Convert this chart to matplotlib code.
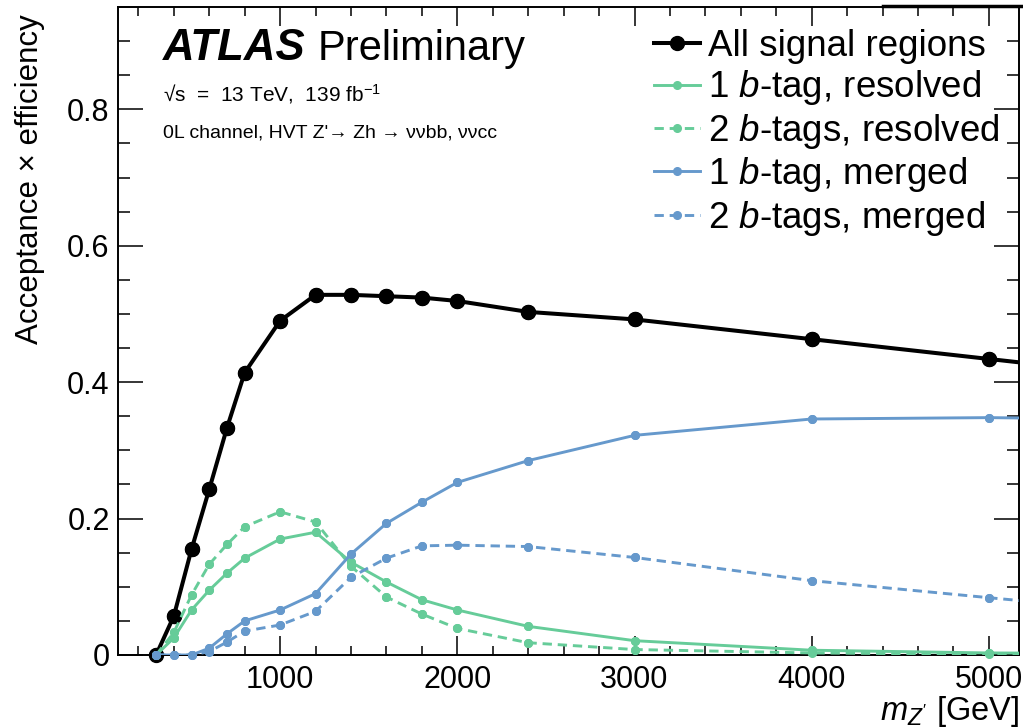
"""Acceptance x efficiency of the HVT Z' -> Zh signal in the 0-lepton channel."""

import matplotlib
matplotlib.use("Agg")
import matplotlib.pyplot as plt
from matplotlib.lines import Line2D
from matplotlib.ticker import MultipleLocator

plt.rcParams["font.family"] = ["Liberation Sans", "DejaVu Sans"]
plt.rcParams["mathtext.fontset"] = "custom"
plt.rcParams["mathtext.rm"] = "Liberation Sans"
plt.rcParams["mathtext.it"] = "Liberation Sans:italic"
plt.rcParams["mathtext.bf"] = "Liberation Sans:bold"

# Signal mass points [GeV]
mass = [300, 400, 500, 600, 700, 800, 1000, 1200, 1400, 1600, 1800, 2000,
        2400, 3000, 4000, 5000, 6000]

all_regions = [0.0, 0.057, 0.155, 0.243, 0.333, 0.414, 0.490, 0.528, 0.528,
               0.526, 0.524, 0.519, 0.503, 0.492, 0.463, 0.434, 0.405]
res_1b = [0.0, 0.025, 0.066, 0.095, 0.120, 0.142, 0.170, 0.180, 0.136,
          0.107, 0.081, 0.066, 0.042, 0.021, 0.007, 0.003, 0.002]
res_2b = [0.0, 0.033, 0.088, 0.133, 0.162, 0.188, 0.210, 0.195, 0.130,
          0.085, 0.060, 0.039, 0.018, 0.008, 0.003, 0.001, 0.001]
mer_1b = [0.0, 0.0, 0.0, 0.010, 0.031, 0.050, 0.066, 0.090, 0.148,
          0.193, 0.224, 0.253, 0.285, 0.322, 0.346, 0.348, 0.345]
mer_2b = [0.0, 0.0, 0.0, 0.005, 0.019, 0.035, 0.044, 0.064, 0.114,
          0.142, 0.160, 0.161, 0.159, 0.143, 0.109, 0.084, 0.060]

labels = ["All signal regions",
          "1 $b$-tag, resolved",
          "2 $b$-tags, resolved",
          "1 $b$-tag, merged",
          "2 $b$-tags, merged"]

GREEN = "#66cc99"
BLUE = "#6699cc"
DASH = (0, (3.2, 2))

W, H = 1023, 727
fig = plt.figure(figsize=(W / 100, H / 100), dpi=100)
# axes box in pixels: left 118, right 1019, top 7, bottom 655
ax = fig.add_axes([118 / W, 1 - 655 / H, (1019 - 118) / W, (655 - 7) / H])

series = [
    (all_regions, dict(color="black", lw=2.9, ms=10), 3),
    (res_1b, dict(color=GREEN, lw=2.1, ms=5.5), 4),
    (res_2b, dict(color=GREEN, lw=2.1, ms=5.5, ls=DASH), 4),
    (mer_1b, dict(color=BLUE, lw=2.1, ms=5.5), 5),
    (mer_2b, dict(color=BLUE, lw=2.1, ms=5.5, ls=DASH), 5),
]
for (values, style, z), label in zip(series, labels):
    ax.plot(mass, values, marker="o", label=label, zorder=z, **style)
    # markers sitting on the frame are drawn in full
    ax.plot(mass, values, marker="o", ls="none", color=style["color"],
            ms=style["ms"], zorder=z, clip_on=False)

ax.set_xlim(85, 5170)
ax.set_ylim(0, 0.95)
ax.xaxis.set_major_locator(MultipleLocator(1000))
ax.xaxis.set_minor_locator(MultipleLocator(200))
ax.yaxis.set_minor_locator(MultipleLocator(0.05))
ax.set_yticks([0, 0.2, 0.4, 0.6, 0.8])
ax.set_yticklabels(["0", "0.2", "0.4", "0.6", "0.8"])

ax.tick_params(which="both", direction="in", top=True, right=True, width=1.1,
               labelsize=22)
ax.tick_params(axis="x", which="major", length=13.5, pad=7.5)
ax.tick_params(axis="x", which="minor", length=6.5)
ax.tick_params(axis="y", which="major", length=18, pad=6)
ax.tick_params(axis="y", which="minor", length=8.5)
for sp in ax.spines.values():
    sp.set_linewidth(1.4)

fig.text(1019 / W, 1 - 720 / H, "$m_{Z'}$ [GeV]", ha="right", va="baseline",
         fontsize=23.5)
fig.text(30 / W, 1 - 14 / H, "Acceptance \u00d7 efficiency", rotation=90,
         ha="center", va="top", fontsize=22.5)

fig.text(163 / W, 1 - 60 / H, "ATLAS", fontsize=31.5, fontweight="bold",
         fontstyle="italic", va="baseline")
fig.text(318 / W, 1 - 60 / H, "Preliminary", fontsize=30, va="baseline")
fig.text(163 / W, 1 - 101 / H, "\u221as  =  13 TeV,  139 fb$^{-1}$",
         fontsize=15, va="baseline")
fig.text(163 / W, 1 - 137 / H,
         "0L channel, HVT Z'\u2192 Zh \u2192 \u03bd\u03bdbb, \u03bd\u03bdcc",
         fontsize=14, va="baseline")

fig.legend(loc="upper left", bbox_to_anchor=(654 / W, 1 - 29 / H),
           frameon=False, fontsize=26.5, handlelength=1.25, handletextpad=0.22,
           labelspacing=0.12, borderpad=0, borderaxespad=0)

# heavy segment on the top frame at the right
fig.add_artist(Line2D([883 / W, 1.0], [1 - 5.5 / H, 1 - 5.5 / H],
                      color="black", lw=2.5, transform=fig.transFigure))

fig.savefig("out.png", dpi=100)
